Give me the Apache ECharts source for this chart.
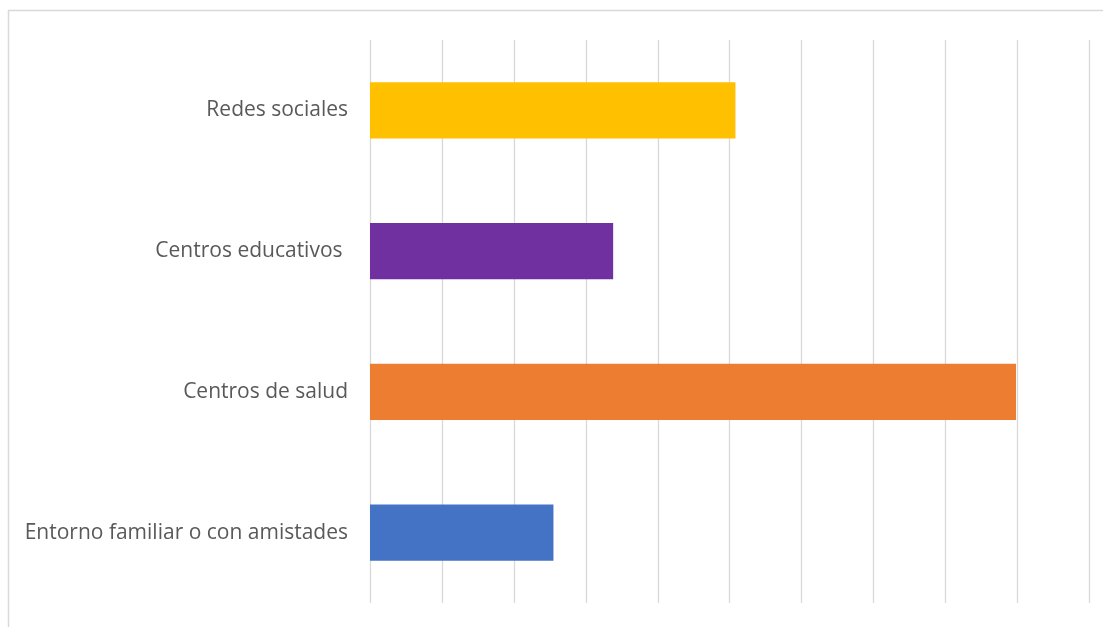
<!DOCTYPE html>
<html>
<head>
<meta charset="utf-8">
<script src="https://cdn.jsdelivr.net/npm/echarts@6/dist/echarts.min.js"></script>
<style>
  html, body { margin: 0; padding: 0; background: #fff; }
  #chart { width: 1103px; height: 627px; }
</style>
</head>
<body>
<div id="chart"></div>
<script>
// categories from bottom to top
const categories = ['Entorno familiar o con amistades', 'Centros de salud', 'Centros educativos ', 'Redes sociales'];
const values = [2.55, 8.98, 3.38, 5.08];
const barColors = ['#4472C4', '#ED7D31', '#7030A0', '#FFC000'];

const chart = echarts.init(document.getElementById('chart'));
chart.setOption({
  animation: false,
  graphic: [{
    type: 'rect',
    shape: { x: 8.5, y: 10.5, width: 1200, height: 700 },
    style: { fill: 'none', stroke: '#d9d9d9', lineWidth: 1.5 },
    silent: true
  }],
  grid: { left: 370, right: 13.6, top: 40, bottom: 24, containLabel: false },
  xAxis: {
    type: 'value',
    min: 0,
    max: 10,
    interval: 1,
    axisLabel: { show: false },
    axisLine: { show: false },
    axisTick: { show: false },
    splitLine: { show: true, lineStyle: { color: '#d9d9d9', width: 1.3 } }
  },
  yAxis: {
    type: 'category',
    data: categories,
    axisLine: { show: false },
    axisTick: { show: false },
    axisLabel: {
      color: '#595959',
      fontSize: 21,
      fontFamily: 'Open Sans',
      margin: 22
    }
  },
  series: [{
    type: 'bar',
    barWidth: '40%',
    data: values.map((v, i) => ({ value: v, itemStyle: { color: barColors[i] } }))
  }]
});
</script>
</body>
</html>
